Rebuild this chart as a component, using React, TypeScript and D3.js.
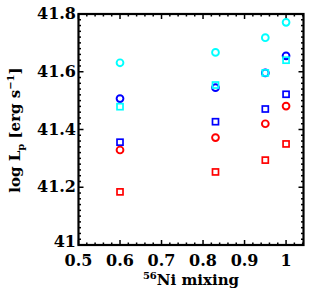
import React from "react";
import * as d3 from "d3";

const mixing = [0.6, 0.83, 0.95, 1.0];
const cyanCircle = [41.631, 41.667, 41.718, 41.771];
const cyanSquare = [41.479, 41.554, 41.596, 41.64];
const blueCircle = [41.507, 41.545, 41.596, 41.655];
const blueSquare = [41.356, 41.427, 41.471, 41.522];
const redCircle = [41.329, 41.372, 41.42, 41.481];
const redSquare = [41.184, 41.253, 41.294, 41.35];
const xTicks = [0.5, 0.6, 0.7, 0.8, 0.9, 1.0];
const xTickLabels = ["0.5", "0.6", "0.7", "0.8", "0.9", "1"];
const yTicks = [41, 41.2, 41.4, 41.6, 41.8];
const yTickLabels = ["41", "41.2", "41.4", "41.6", "41.8"];

const series = [
  { vals: redSquare, color: "#ff0000", shape: "square" },
  { vals: blueSquare, color: "#0000ff", shape: "square" },
  { vals: redCircle, color: "#ff0000", shape: "circle" },
  { vals: cyanCircle, color: "#00ffff", shape: "circle" },
  { vals: blueCircle, color: "#0000ff", shape: "circle" },
  { vals: cyanSquare, color: "#00ffff", shape: "square" },
];

export default function App() {
  const W = 311, H = 292;
  const left = 78.5, right = 303.5, top = 14, bottom = 245;
  const x = d3.scaleLinear().domain([0.5, 1.042]).range([left, right]);
  const y = d3.scaleLinear().domain([41, 41.8]).range([bottom, top]);
  const font = "'DejaVu Serif', serif";

  const xMinor = d3.range(0.5, 1.0421, 0.02).filter((v) => Math.abs(v * 10 - Math.round(v * 10)) > 1e-6);
  const yMinor = d3.range(41, 41.8001, 0.02).filter((v) => Math.abs(v * 5 - Math.round(v * 5)) > 1e-6);
  const maj = 5, mn = 2.5;

  return (
    <svg width={W} height={H} style={{ position: "absolute", left: 0, top: 0 }}>
      <rect x={0} y={0} width={W} height={H} fill="#fff" />
      <g stroke="#000" strokeWidth={1.5}>
        {xTicks.map((t, i) => (
          <g key={"xt" + i}>
            <line x1={x(t)} x2={x(t)} y1={bottom} y2={bottom - maj} />
            <line x1={x(t)} x2={x(t)} y1={top} y2={top + maj} />
          </g>
        ))}
        {xMinor.map((t, i) => (
          <g key={"xm" + i}>
            <line x1={x(t)} x2={x(t)} y1={bottom} y2={bottom - mn} />
            <line x1={x(t)} x2={x(t)} y1={top} y2={top + mn} />
          </g>
        ))}
        {yTicks.map((t, i) => (
          <g key={"yt" + i}>
            <line x1={left} x2={left + maj} y1={y(t)} y2={y(t)} />
            <line x1={right} x2={right - maj} y1={y(t)} y2={y(t)} />
          </g>
        ))}
        {yMinor.map((t, i) => (
          <g key={"ym" + i}>
            <line x1={left} x2={left + mn} y1={y(t)} y2={y(t)} />
            <line x1={right} x2={right - mn} y1={y(t)} y2={y(t)} />
          </g>
        ))}
      </g>
      <rect x={left} y={top} width={right - left} height={bottom - top} fill="none" stroke="#000" strokeWidth={2.2} />
      {series.map((s, si) =>
        s.vals.map((v, i) =>
          s.shape === "circle" ? (
            <circle key={si + "-" + i} cx={x(mixing[i])} cy={y(v)} r={3.4} fill="none" stroke={s.color} strokeWidth={1.9} />
          ) : (
            <rect key={si + "-" + i} x={x(mixing[i]) - 3} y={y(v) - 3} width={6} height={6} fill="none" stroke={s.color} strokeWidth={1.7} />
          )
        )
      )}
      <g fontFamily={font} fontWeight="bold" fontSize={16} fill="#000">
        {xTicks.map((t, i) => (
          <text key={"xl" + i} x={x(t)} y={266} textAnchor="middle">{xTickLabels[i]}</text>
        ))}
        {yTicks.map((t, i) => (
          <text key={"yl" + i} x={76} y={y(t) + (i === 0 ? 2 : 5)} textAnchor="end">{yTickLabels[i]}</text>
        ))}
        <text x={191} y={285} fontSize={15} textAnchor="middle">
          <tspan fontSize={10} dy={-6}>56</tspan>
          <tspan dy={6}>Ni mixing</tspan>
        </text>
        <text transform={`translate(20,130) rotate(-90)`} fontSize={15} textAnchor="middle">
          <tspan>log L</tspan>
          <tspan fontSize={10} dy={4}>p</tspan>
          <tspan dy={-4}> [erg s</tspan>
          <tspan fontSize={10} dy={-6}>−1</tspan>
          <tspan dy={6}>]</tspan>
        </text>
      </g>
    </svg>
  );
}
